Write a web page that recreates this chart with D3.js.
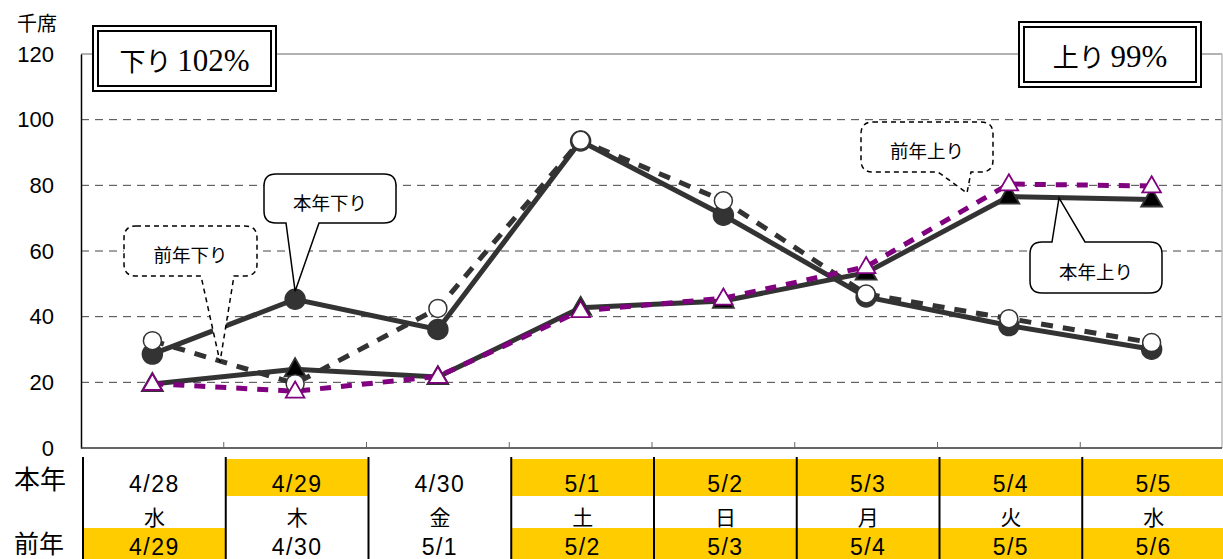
<!DOCTYPE html>
<html>
<head>
<meta charset="utf-8">
<script src="https://cdn.jsdelivr.net/npm/d3@7"></script>
<style>
  body { margin: 0; background: #fff; }
  svg { display: block; }
  text { font-family: "Liberation Sans", Arial, "Noto Sans CJK JP", sans-serif; }
  .jp { font-family: "Noto Sans CJK JP", sans-serif; }
</style>
</head>
<body>
<svg width="1223" height="559"></svg>
<script>
// データ（千席）
const daysThisYear = ["4/28", "4/29", "4/30", "5/1", "5/2", "5/3", "5/4", "5/5"];
const weekdays = ["水", "木", "金", "土", "日", "月", "火", "水"];
const daysLastYear = ["4/29", "4/30", "5/1", "5/2", "5/3", "5/4", "5/5", "5/6"];
const holidayThisYear = [false, true, false, true, true, true, true, true];
const holidayLastYear = [true, false, false, true, true, true, true, true];

const downThisYear = [28.6, 45.3, 36.1, 93.5, 70.9, 46.0, 37.3, 30.1];
const downLastYear = [32.7, 19.6, 42.5, 93.7, 75.3, 46.9, 39.4, 32.1];
const upThisYear = [19.5, 24.0, 21.6, 42.7, 44.8, 53.4, 76.6, 75.7];
const upLastYear = [19.6, 17.3, 21.8, 41.8, 45.6, 55.2, 80.4, 79.8];

const yTicks = [0, 20, 40, 60, 80, 100, 120];

const svg = d3.select("svg");

const plotL = 81, plotR = 1223, plotT = 54, plotB = 448;

const x = d3.scaleBand().domain(d3.range(daysThisYear.length)).range([plotL, plotR]).padding(0);
const y = d3.scaleLinear().domain([0, 120]).range([plotB, plotT]);
const cx = i => x(i) + x.bandwidth() / 2;

// グリッド
svg.append("g")
    .selectAll("line")
    .data(yTicks.filter(d => d > 0 && d < 120))
    .enter()
    .append("line")
    .attr("x1", plotL).attr("x2", plotR - 1)
    .attr("y1", d => y(d)).attr("y2", d => y(d))
    .style("stroke", "#444")
    .style("stroke-width", 1)
    .style("stroke-dasharray", "8,6");

// 外枠
svg.append("line").attr("x1", plotL).attr("x2", plotR - 1).attr("y1", plotT).attr("y2", plotT)
    .style("stroke", "#999").style("stroke-width", 1.5);
svg.append("line").attr("x1", plotR - 1).attr("x2", plotR - 1).attr("y1", plotT).attr("y2", plotB)
    .style("stroke", "#bbb").style("stroke-width", 1.5);

// y軸
const yAxis = d3.axisLeft(y).tickValues(yTicks).tickSize(0).tickPadding(27);
const gy = svg.append("g").attr("transform", `translate(${plotL},0)`).call(yAxis);
gy.select(".domain").style("stroke", "#000").style("stroke-width", 1.5);
gy.selectAll("text").style("font-size", "22px").style("fill", "#000")
    .attr("font-family", "Liberation Sans, Arial, sans-serif");

// x軸
const gx = svg.append("g").attr("transform", `translate(0,${plotB})`);
gx.append("line").attr("x1", plotL).attr("x2", plotR - 1).attr("y1", 0).attr("y2", 0)
    .style("stroke", "#333").style("stroke-width", 1.5);
gx.selectAll(".tick")
    .data(d3.range(1, daysThisYear.length))
    .enter()
    .append("line")
    .attr("x1", d => x(d)).attr("x2", d => x(d))
    .attr("y1", 0).attr("y2", -6)
    .style("stroke", "#666");

svg.append("text").attr("class", "jp").attr("x", 17).attr("y", 31)
    .style("font-size", "20px").text("千席");

// 系列
const series = [
    { values: downThisYear, color: "#333", dash: null, marker: "dot" },
    { values: upThisYear, color: "#333", dash: null, marker: "tri" },
    { values: downLastYear, color: "#333", dash: "12,10", marker: "circle" },
    { values: upLastYear, color: "#800080", dash: "11,10", marker: "opentri" }
];

const line = d3.line().x((d, i) => cx(i)).y(d => y(d));

series.forEach(s => {
    svg.append("path")
        .datum(s.values)
        .attr("d", line)
        .style("fill", "none")
        .style("stroke", s.color)
        .style("stroke-width", 5)
        .style("stroke-dasharray", s.dash);
});

const tri = d3.symbol().type(d3.symbolTriangle);

series.forEach(s => {
    const g = svg.append("g");
    if (s.marker === "dot" || s.marker === "circle") {
        g.selectAll("circle")
            .data(s.values)
            .enter()
            .append("circle")
            .attr("cx", (d, i) => cx(i))
            .attr("cy", d => y(d))
            .attr("r", s.marker === "dot" ? 10 : 9)
            .style("fill", s.marker === "dot" ? "#333" : "#fff")
            .style("stroke", "#333")
            .style("stroke-width", 1.5);
    } else {
        g.selectAll("path")
            .data(s.values)
            .enter()
            .append("path")
            .attr("d", tri.size(s.marker === "tri" ? 190 : 150))
            .attr("transform", (d, i) => `translate(${cx(i)},${y(d) + 1})`)
            .style("fill", s.marker === "tri" ? "#000" : "#fff")
            .style("stroke", s.marker === "tri" ? "#333" : "#800080")
            .style("stroke-width", 1.8);
    }
});

// 吹き出し
function calloutPath(bx, by, bw, bh, r, side, b0, b1, tx, ty) {
    const p = d3.path();
    p.moveTo(bx + r, by);
    if (side === "top") {
        p.lineTo(b0, by);
        p.lineTo(tx, ty);
        p.lineTo(b1, by);
    }
    p.lineTo(bx + bw - r, by);
    p.quadraticCurveTo(bx + bw, by, bx + bw, by + r);
    p.lineTo(bx + bw, by + bh - r);
    p.quadraticCurveTo(bx + bw, by + bh, bx + bw - r, by + bh);
    if (side === "bottom") {
        p.lineTo(b1, by + bh);
        p.lineTo(tx, ty);
        p.lineTo(b0, by + bh);
    }
    p.lineTo(bx + r, by + bh);
    p.quadraticCurveTo(bx, by + bh, bx, by + bh - r);
    p.lineTo(bx, by + r);
    p.quadraticCurveTo(bx, by, bx + r, by);
    p.closePath();
    return p.toString();
}

const callouts = [
    { label: "本年下り", box: [264, 174, 132, 49], side: "bottom", base: [286, 319], tip: [cx(1), y(downThisYear[1]) - 8], dash: null },
    { label: "前年下り", box: [124, 226, 133, 50], side: "bottom", base: [201, 234], tip: [220, 362], dash: "5,4" },
    { label: "前年上り", box: [861, 122, 132, 50], side: "bottom", base: [938, 971], tip: [967, 193], dash: "5,4" },
    { label: "本年上り", box: [1030, 242, 132, 51], side: "top", base: [1052, 1085], tip: [1059, y(d3.mean([upThisYear[6], upThisYear[7]]))], dash: null }
];

callouts.forEach(c => {
    const [bx, by, bw, bh] = c.box;
    svg.append("path")
        .attr("d", calloutPath(bx, by, bw, bh, 12, c.side, c.base[0], c.base[1], c.tip[0], c.tip[1]))
        .style("fill", "#fff")
        .style("stroke", "#000")
        .style("stroke-width", 1.5)
        .style("stroke-dasharray", c.dash);
    svg.append("text")
        .attr("class", "jp")
        .attr("x", bx + bw / 2)
        .attr("y", by + bh / 2 + 11)
        .attr("text-anchor", "middle")
        .style("font-size", "18.5px")
        .text(c.label);
});

// タイトル枠
const titles = [
    { kana: "下り", pct: "102%", box: [93, 26, 183, 65] },
    { kana: "上り", pct: "99%", box: [1019, 22, 182, 65] }
];
titles.forEach(t => {
    const [bx, by, bw, bh] = t.box;
    svg.append("rect").attr("x", bx).attr("y", by).attr("width", bw).attr("height", bh)
        .style("fill", "#fff").style("stroke", "#000").style("stroke-width", 2);
    svg.append("rect").attr("x", bx + 5).attr("y", by + 5).attr("width", bw - 10).attr("height", bh - 10)
        .style("fill", "none").style("stroke", "#000").style("stroke-width", 2);
    const txt = svg.append("text")
        .attr("x", bx + bw / 2)
        .attr("y", by + bh / 2 + 12)
        .attr("text-anchor", "middle");
    txt.append("tspan").attr("class", "jp").style("font-size", "26px").text(t.kana + " ");
    txt.append("tspan")
        .style("font-family", "'Liberation Serif', serif")
        .style("font-size", "31px")
        .text(t.pct);
});

// 日付表
const tx = i => x(i) + 2;
const rows = [
    { y0: 459, y1: 496, labels: daysThisYear, hl: holidayThisYear, ty: 492, jp: false },
    { y0: 496, y1: 528, labels: weekdays, hl: weekdays.map(() => false), ty: 525, jp: true },
    { y0: 528, y1: 566, labels: daysLastYear, hl: holidayLastYear, ty: 555, jp: false }
];

rows.forEach(r => {
    r.hl.forEach((h, i) => {
        if (!h) return;
        svg.append("rect")
            .attr("x", tx(i))
            .attr("y", r.y0)
            .attr("width", i === r.hl.length - 1 ? plotR - tx(i) : x.bandwidth())
            .attr("height", r.y1 - r.y0)
            .style("fill", "#FFCC00");
    });
    svg.append("g")
        .selectAll("text")
        .data(r.labels)
        .enter()
        .append("text")
        .attr("x", (d, i) => tx(i) + x.bandwidth() / 2)
        .attr("y", r.ty)
        .attr("text-anchor", "middle")
        .attr("class", r.jp ? "jp" : null)
        .style("font-size", r.jp ? "21px" : "23px")
        .style("letter-spacing", r.jp ? null : "1.5px")
        .text(d => d);
});

svg.append("g")
    .selectAll("line")
    .data(d3.range(daysThisYear.length))
    .enter()
    .append("line")
    .attr("x1", d => tx(d)).attr("x2", d => tx(d))
    .attr("y1", 457).attr("y2", 559)
    .style("stroke", "#000")
    .style("stroke-width", 2);

svg.append("text").attr("class", "jp").attr("x", 14).attr("y", 489)
    .style("font-size", "26px").text("本年");
svg.append("text").attr("class", "jp").attr("x", 14).attr("y", 553)
    .style("font-size", "25px").text("前年");
</script>
</body>
</html>
